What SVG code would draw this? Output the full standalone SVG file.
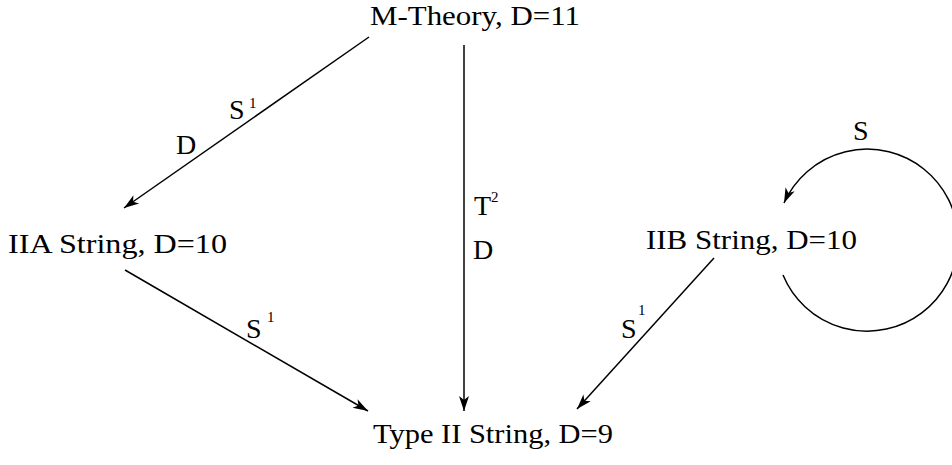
<svg xmlns="http://www.w3.org/2000/svg" width="952" height="465" viewBox="0 0 952 465">
<style>
  .lbl { font-family: "Liberation Serif", "Times New Roman", serif; font-size: 28px; fill: #000; }
  .sup { font-family: "Liberation Serif", "Times New Roman", serif; font-size: 15px; fill: #000; }
  .edge { stroke: #000; stroke-width: 1.5; fill: none; marker-end: url(#arr); }
</style>
<defs>
  <marker id="arr" markerUnits="userSpaceOnUse" markerWidth="20" markerHeight="14" viewBox="-16 -7 18 14" refX="0" refY="0" orient="auto">
    <path d="M0,0 L-15,-5 L-11,0 L-15,5 Z" fill="#000"/>
  </marker>
</defs>
<rect width="952" height="465" fill="#fff"/>

<g id="m-theory"><text class="lbl" x="370" y="25" textLength="210" lengthAdjust="spacingAndGlyphs">M-Theory, D=11</text></g>
<g id="iia"><text class="lbl" x="8" y="253" textLength="219" lengthAdjust="spacingAndGlyphs">IIA String, D=10</text></g>
<g id="iib"><text class="lbl" x="646" y="249" textLength="211" lengthAdjust="spacingAndGlyphs">IIB String, D=10</text></g>
<g id="type2"><text class="lbl" x="373" y="443" textLength="240" lengthAdjust="spacingAndGlyphs">Type II String, D=9</text></g>

<g id="connectors">
  <line class="edge" x1="369" y1="37" x2="124" y2="208"/>
  <line class="edge" x1="464" y1="45" x2="464" y2="411"/>
  <line class="edge" x1="125" y1="270" x2="368" y2="411"/>
  <line class="edge" x1="714" y1="258" x2="577" y2="409"/>
  <path class="edge" d="M783,275 A91,91 0 1 0 784,203"/>
</g>

<g id="edge-labels">
  <text class="lbl" x="229" y="119">S</text><text class="sup" x="249" y="108">1</text>
  <text class="lbl" x="176" y="154">D</text>
  <text class="lbl" x="474" y="215">T</text><text class="sup" x="491" y="202">2</text>
  <text class="lbl" x="473" y="259">D</text>
  <text class="lbl" x="246" y="338">S</text><text class="sup" x="267" y="322">1</text>
  <text class="lbl" x="621" y="338">S</text><text class="sup" x="638" y="315">1</text>
  <text class="lbl" x="853" y="140">S</text>
</g>
</svg>
